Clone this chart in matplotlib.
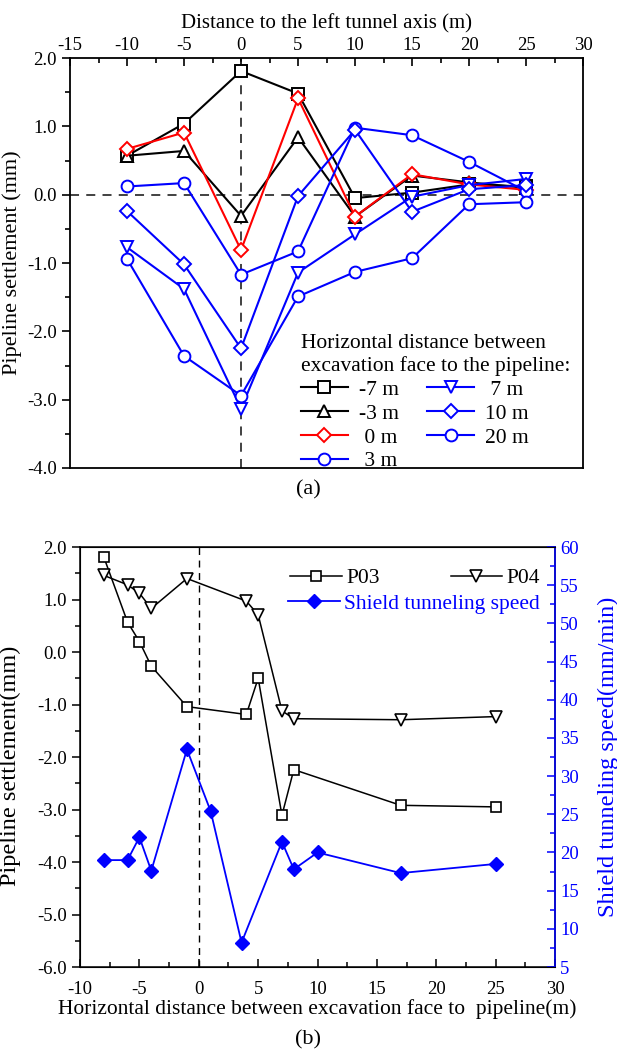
import matplotlib
matplotlib.use("Agg")
import matplotlib.pyplot as plt
from matplotlib.ticker import MultipleLocator, FormatStrFormatter

plt.rcParams['font.family'] = ['Liberation Serif', 'DejaVu Serif']
plt.rcParams['axes.unicode_minus'] = False

# ---- panel (a): settlement along pipeline for several face positions
dist_a = [-10, -5, 0, 5, 10, 15, 20, 25]
s_m7 = [0.57, 1.04, 1.81, 1.48, -0.05, 0.03, 0.15, 0.12]
s_m3 = [0.57, 0.64, -0.31, 0.84, -0.32, 0.28, 0.18, 0.10]
s_0 = [0.67, 0.91, -0.81, 1.41, -0.32, 0.30, 0.15, 0.07]
s_3 = [0.12, 0.17, -1.17, -0.83, 0.98, 0.87, 0.48, 0.05]
s_7 = [-0.77, -1.38, -3.13, -1.14, -0.58, -0.03, 0.14, 0.23]
s_10 = [-0.24, -1.02, -2.25, -0.02, 0.95, -0.25, 0.08, 0.14]
s_20 = [-0.94, -2.36, -2.94, -1.49, -1.13, -0.93, -0.14, -0.11]

# ---- panel (b): settlement at P03/P04 and shield speed vs face distance
dist_p03 = [-8, -6, -5, -4, -1, 4, 5, 7, 8, 17, 25]
p03 = [1.81, 0.57, 0.20, -0.27, -1.04, -1.19, -0.50, -3.11, -2.24, -2.92, -2.95]
dist_p04 = [-8, -6, -5, -4, -1, 4, 5, 7, 8, 17, 25]
p04 = [1.46, 1.28, 1.12, 0.83, 1.40, 0.97, 0.71, -1.12, -1.27, -1.29, -1.23]
dist_speed = [-8, -6, -5, -4, -1, 1, 3.6, 7, 8, 10, 17, 25]
speed = [19.0, 19.0, 22.0, 17.6, 33.5, 25.4, 8.2, 21.4, 17.8, 20.0, 17.3, 18.5]

fig = plt.figure(figsize=(6.17, 10.55), dpi=100)

# ================= (a)
ax = fig.add_axes([0.1135, 0.5564, 0.8315, 0.3886])
series = [
    (s_m7, 's', 'black', '-7 m'),
    (s_m3, '^', 'black', '-3 m'),
    (s_0, 'D', 'red', ' 0 m'),
    (s_3, 'o', 'blue', ' 3 m'),
    (s_7, 'v', 'blue', ' 7 m'),
    (s_10, 'D', 'blue', '10 m'),
    (s_20, 'o', 'blue', '20 m'),
]
for vals, mk, col, lab in series:
    ms = 7 if mk == 'D' else 8.5
    ax.plot(dist_a, vals, marker=mk, color=col, lw=1.5, ms=ms,
            mfc='white', mec=col, mew=1.4, label=lab)

ax.axhline(0, color='#333333', ls=(0, (5, 4)), lw=1.3, zorder=0)
ax.axvline(0, color='#333333', ls=(0, (5, 4)), lw=1.3, zorder=0)
ax.set_xlim(-15, 30)
ax.set_ylim(-4, 2)
ax.xaxis.set_major_locator(MultipleLocator(5))
ax.xaxis.set_minor_locator(MultipleLocator(2.5))
ax.yaxis.set_major_locator(MultipleLocator(1))
ax.yaxis.set_minor_locator(MultipleLocator(0.5))
ax.yaxis.set_major_formatter(FormatStrFormatter('%.1f'))
ax.xaxis.tick_top()
ax.xaxis.set_label_position('top')
ax.tick_params(axis='x', which='both', direction='in', top=True, bottom=False,
               labelsize=13.5, pad=3)
ax.tick_params(axis='x', which='major', length=6, width=1.2)
ax.tick_params(axis='x', which='minor', length=3.5, width=1.2)
ax.tick_params(axis='y', which='both', direction='out', labelsize=13.5, width=1.2)
ax.tick_params(axis='y', which='major', length=6)
ax.tick_params(axis='y', which='minor', length=3.5)
for sp in ax.spines.values():
    sp.set_linewidth(1.3)
ax.set_xlabel('Distance to the left tunnel axis (m)', fontsize=15, labelpad=6)
ax.set_ylabel('Pipeline settlement (mm)', fontsize=16)
ax.yaxis.set_label_coords(-0.094, 0.5)

leg = ax.legend(loc='lower right', bbox_to_anchor=(1.0, -0.04), ncol=2, frameon=False,
                fontsize=15.5, handlelength=2.2, columnspacing=1.3, labelspacing=0.18,
                handletextpad=0.5, borderaxespad=0.2,
                title='Horizontal distance between\nexcavation face to the pipeline:',
                title_fontsize=15.5, alignment='left')

fig.text(0.5, 1 - 490 / 1055, '(a)', ha='center', va='center', fontsize=16)

# ================= (b)
bx = fig.add_axes([0.1297, 0.0834, 0.7700, 0.3981])
l1, = bx.plot(dist_p03, p03, marker='s', color='black', lw=1.1, ms=7.5,
              mfc='white', mec='black', mew=1.2, label='P03')
l2, = bx.plot(dist_p04, p04, marker='v', color='black', lw=1.1, ms=8,
              mfc='white', mec='black', mew=1.2, label='P04')
bx.axvline(0, color='black', ls=(0, (5, 4)), lw=1.0, zorder=0)
bx.set_xlim(-10, 30)
bx.set_ylim(-6, 2)
bx.xaxis.set_major_locator(MultipleLocator(5))
bx.xaxis.set_minor_locator(MultipleLocator(2.5))
bx.yaxis.set_major_locator(MultipleLocator(1))
bx.yaxis.set_minor_locator(MultipleLocator(0.5))
bx.yaxis.set_major_formatter(FormatStrFormatter('%.1f'))
bx.tick_params(axis='x', which='both', direction='in', labelsize=13.5, width=1.1, pad=10)
bx.tick_params(axis='x', which='major', length=6)
bx.tick_params(axis='x', which='minor', length=3.5)
bx.tick_params(axis='y', which='both', direction='out', labelsize=13.5, width=1.1)
bx.tick_params(axis='y', which='major', length=6)
bx.tick_params(axis='y', which='minor', length=3.5)
for sp in bx.spines.values():
    sp.set_linewidth(1.1)
bx.set_xlabel('Horizontal distance between excavation face to  pipeline(m)',
              fontsize=15.5, labelpad=1)
bx.set_ylabel('Pipeline settlement(mm)', fontsize=17.5)
bx.yaxis.set_label_coords(-0.125, 0.48)

bx2 = bx.twinx()
l3, = bx2.plot(dist_speed, speed, marker='D', color='blue', lw=1.3, ms=7.5,
               mfc='blue', mec='blue', label='Shield tunneling speed')
bx2.set_ylim(5, 60)
bx2.yaxis.set_major_locator(MultipleLocator(5))
bx2.yaxis.set_minor_locator(MultipleLocator(2.5))
bx2.tick_params(axis='y', which='both', direction='in', colors='blue',
                labelsize=13.5, width=1.1)
bx2.tick_params(axis='y', which='major', length=6)
bx2.tick_params(axis='y', which='minor', length=3.5)
bx2.spines['right'].set_color('blue')
bx2.spines['right'].set_linewidth(1.1)
bx2.set_ylabel('Shield tunneling speed(mm/min)', color='blue', fontsize=17.5)
bx2.yaxis.set_label_coords(1.09, 0.5)

leg1 = bx2.legend(handles=[l1, l2], loc='upper right', bbox_to_anchor=(1.0, 0.985),
                  ncol=2, frameon=False, fontsize=15.5, handlelength=2.4,
                  columnspacing=3.3, handletextpad=0.2, borderaxespad=0.3)
bx2.add_artist(leg1)
leg2 = bx2.legend(handles=[l3], loc='upper right', bbox_to_anchor=(1.0, 0.925),
                  frameon=False, fontsize=15.5, handlelength=2.4,
                  handletextpad=0.2, borderaxespad=0.3, labelcolor='blue')

fig.text(0.5, 1 - 1040 / 1055, '(b)', ha='center', va='center', fontsize=16)

fig.savefig('out.png', dpi=100)
